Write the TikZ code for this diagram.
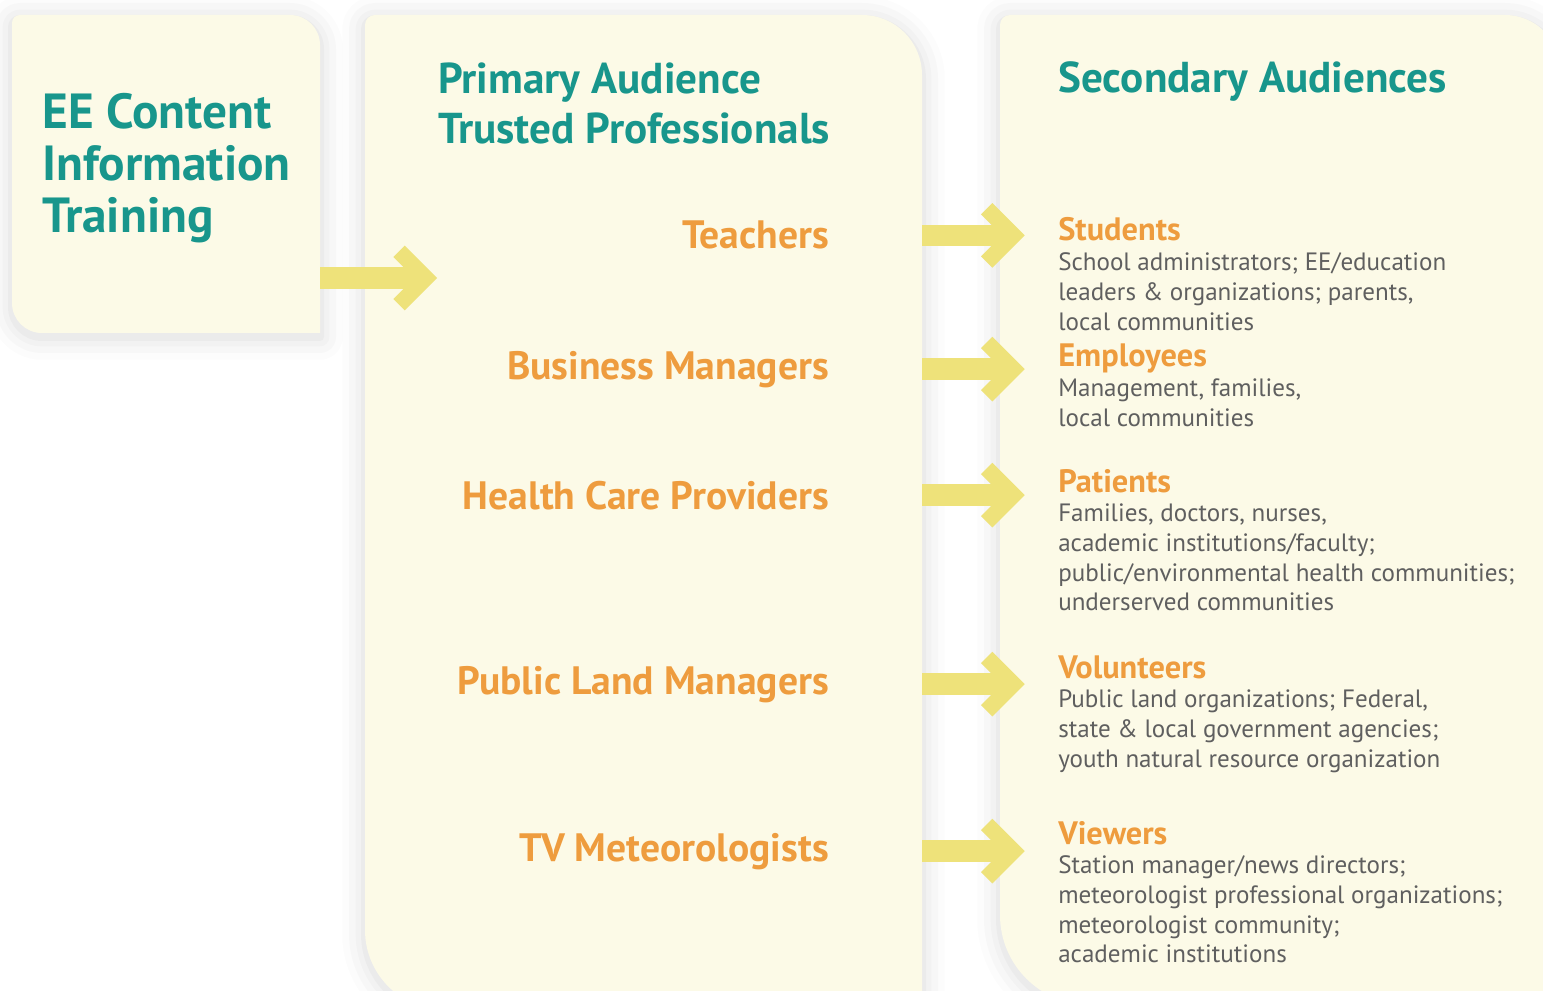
\documentclass[tikz,border=0pt]{standalone}
\usepackage{fontspec}
\setmainfont{PT Sans}
\usetikzlibrary{positioning,arrows.meta}

\definecolor{boxcream}{RGB}{252,250,231}
\definecolor{eeteal}{RGB}{24,150,140}
\definecolor{eeorange}{RGB}{238,156,62}
\definecolor{bodygray}{RGB}{95,95,95}
\definecolor{arrowyellow}{RGB}{238,226,122}
\definecolor{shadowgray}{RGB}{120,120,120}

\tikzset{
  panel/.style={fill=boxcream},
  halo/.style={draw=shadowgray, line join=round},
  headtext/.style={inner sep=0pt, text=eeteal, font=\bfseries\fontsize{32.4}{37.5}\selectfont, align=left},
  prof/.style={inner sep=0pt, text=eeorange, font=\bfseries\fontsize{29.7}{34}\selectfont, anchor=base east},
  audgroup/.style={inner sep=0pt, text=eeorange, font=\bfseries\fontsize{24.3}{28}\selectfont, anchor=base west},
  members/.style={inner sep=0pt, text=bodygray, font=\fontsize{18.8}{22.2}\selectfont, align=left,
    below=7.7pt of #1.base west, anchor=north west},
  fatarrow/.style={draw=arrowyellow, line width=16pt,
    -{Straight Barb[line width=12pt, length=20pt, width=40pt]}}
}
\newcommand{\memstrut}{\rule{0pt}{14.5pt}}

% panel outlines (px, y down)
\newcommand{\eepath}{(20,15) -- (290,15) arc[start angle=270,end angle=360,radius=30] -- (320,333)
  -- (42,333) arc[start angle=90,end angle=180,radius=30] -- (12,23) arc[start angle=180,end angle=270,radius=8] -- cycle}
\newcommand{\primpath}{(375,15) -- (862,15) arc[start angle=270,end angle=360,radius=60] -- (922,1010)
  -- (445,1010) arc[start angle=90,end angle=180,radius=80] -- (365,25) arc[start angle=180,end angle=270,radius=10] -- cycle}
\newcommand{\secpath}{(1010,15) -- (1505,15) arc[start angle=270,end angle=360,radius=55] -- (1560,1005)
  -- (1090,1005) arc[start angle=90,end angle=180,radius=90] -- (1000,25) arc[start angle=180,end angle=270,radius=10] -- cycle}

\begin{document}
\begin{tikzpicture}[x=0.75pt,y=-0.75pt]
  \useasboundingbox (0,0) rectangle (1543,991);
  \clip (0,0) rectangle (1543,991);
  \fill[white] (0,0) rectangle (1543,991);

  % Soft shadows
  \foreach \w/\o in {34/0.02, 24/0.03, 14/0.04, 6/0.05}
  {
    \draw[halo, line width=\w pt, opacity=\o, yshift=-3pt] \eepath;
    \draw[halo, line width=\w pt, opacity=\o, yshift=-3pt] \primpath;
    \draw[halo, line width=\w pt, opacity=\o, yshift=-3pt] \secpath;
  }

  % Panels
  \fill[panel] \eepath;
  \fill[panel] \primpath;
  \fill[panel] \secpath;

  % Headings
  \node[headtext, font=\bfseries\fontsize{37}{39}\selectfont, anchor=north west] (ee-title) at (42,90.7)
    {\rule{0pt}{28pt}EE Content\\Information\\Training};
  \node[headtext, anchor=north west] (prim-title) at (438,59.7)
    {\rule{0pt}{25pt}Primary Audience\\Trusted Professionals};
  \node[headtext, anchor=base west] (sec-title) at (1058,93) {Secondary Audiences};

  % Trusted professionals
  \node[prof] (teach) at (829,249) {Teachers};
  \node[prof] (busi) at (829,379) {Business Managers};
  \node[prof] (heal) at (829,509) {Health Care Providers};
  \node[prof] (land) at (829,694) {Public Land Managers};
  \node[prof] (tvme) at (829,861) {TV Meteorologists};

  % Secondary audiences
  \node[audgroup] (stud) at (1058,241) {Students};
  \node[members=stud] (stud-m) {\memstrut School administrators; EE/education\\leaders \& organizations; parents,\\local communities};

  \node[audgroup] (empl) at (1058,367) {Employees};
  \node[members=empl] (empl-m) {\memstrut Management, families,\\local communities};

  \node[audgroup] (pati) at (1058,492) {Patients};
  \node[members=pati] (pati-m) {\memstrut Families, doctors, nurses,\\academic institutions/faculty;\\public/environmental health communities;\\underserved communities};

  \node[audgroup] (volu) at (1058,678) {Volunteers};
  \node[members=volu] (volu-m) {\memstrut Public land organizations; Federal,\\state \& local government agencies;\\youth natural resource organization};

  \node[audgroup] (view) at (1058,844) {Viewers};
  \node[members=view] (view-m) {\memstrut Station manager/news directors;\\meteorologist professional organizations;\\meteorologist community;\\academic institutions};

  % Arrows
  \coordinate (ee-out) at (320,278);
  \coordinate (prim-in) at (437,278);
  \coordinate (prim-e) at (922,0);
  \draw[fatarrow] (ee-out) -- (prim-in);
  \foreach \p/\g in {teach/stud, busi/empl, heal/pati, land/volu, tvme/view}
  {
    \draw[fatarrow, shorten >=25pt] (\p.east -| prim-e) -- (\p.east -| \g.west);
  }
\end{tikzpicture}
\end{document}
